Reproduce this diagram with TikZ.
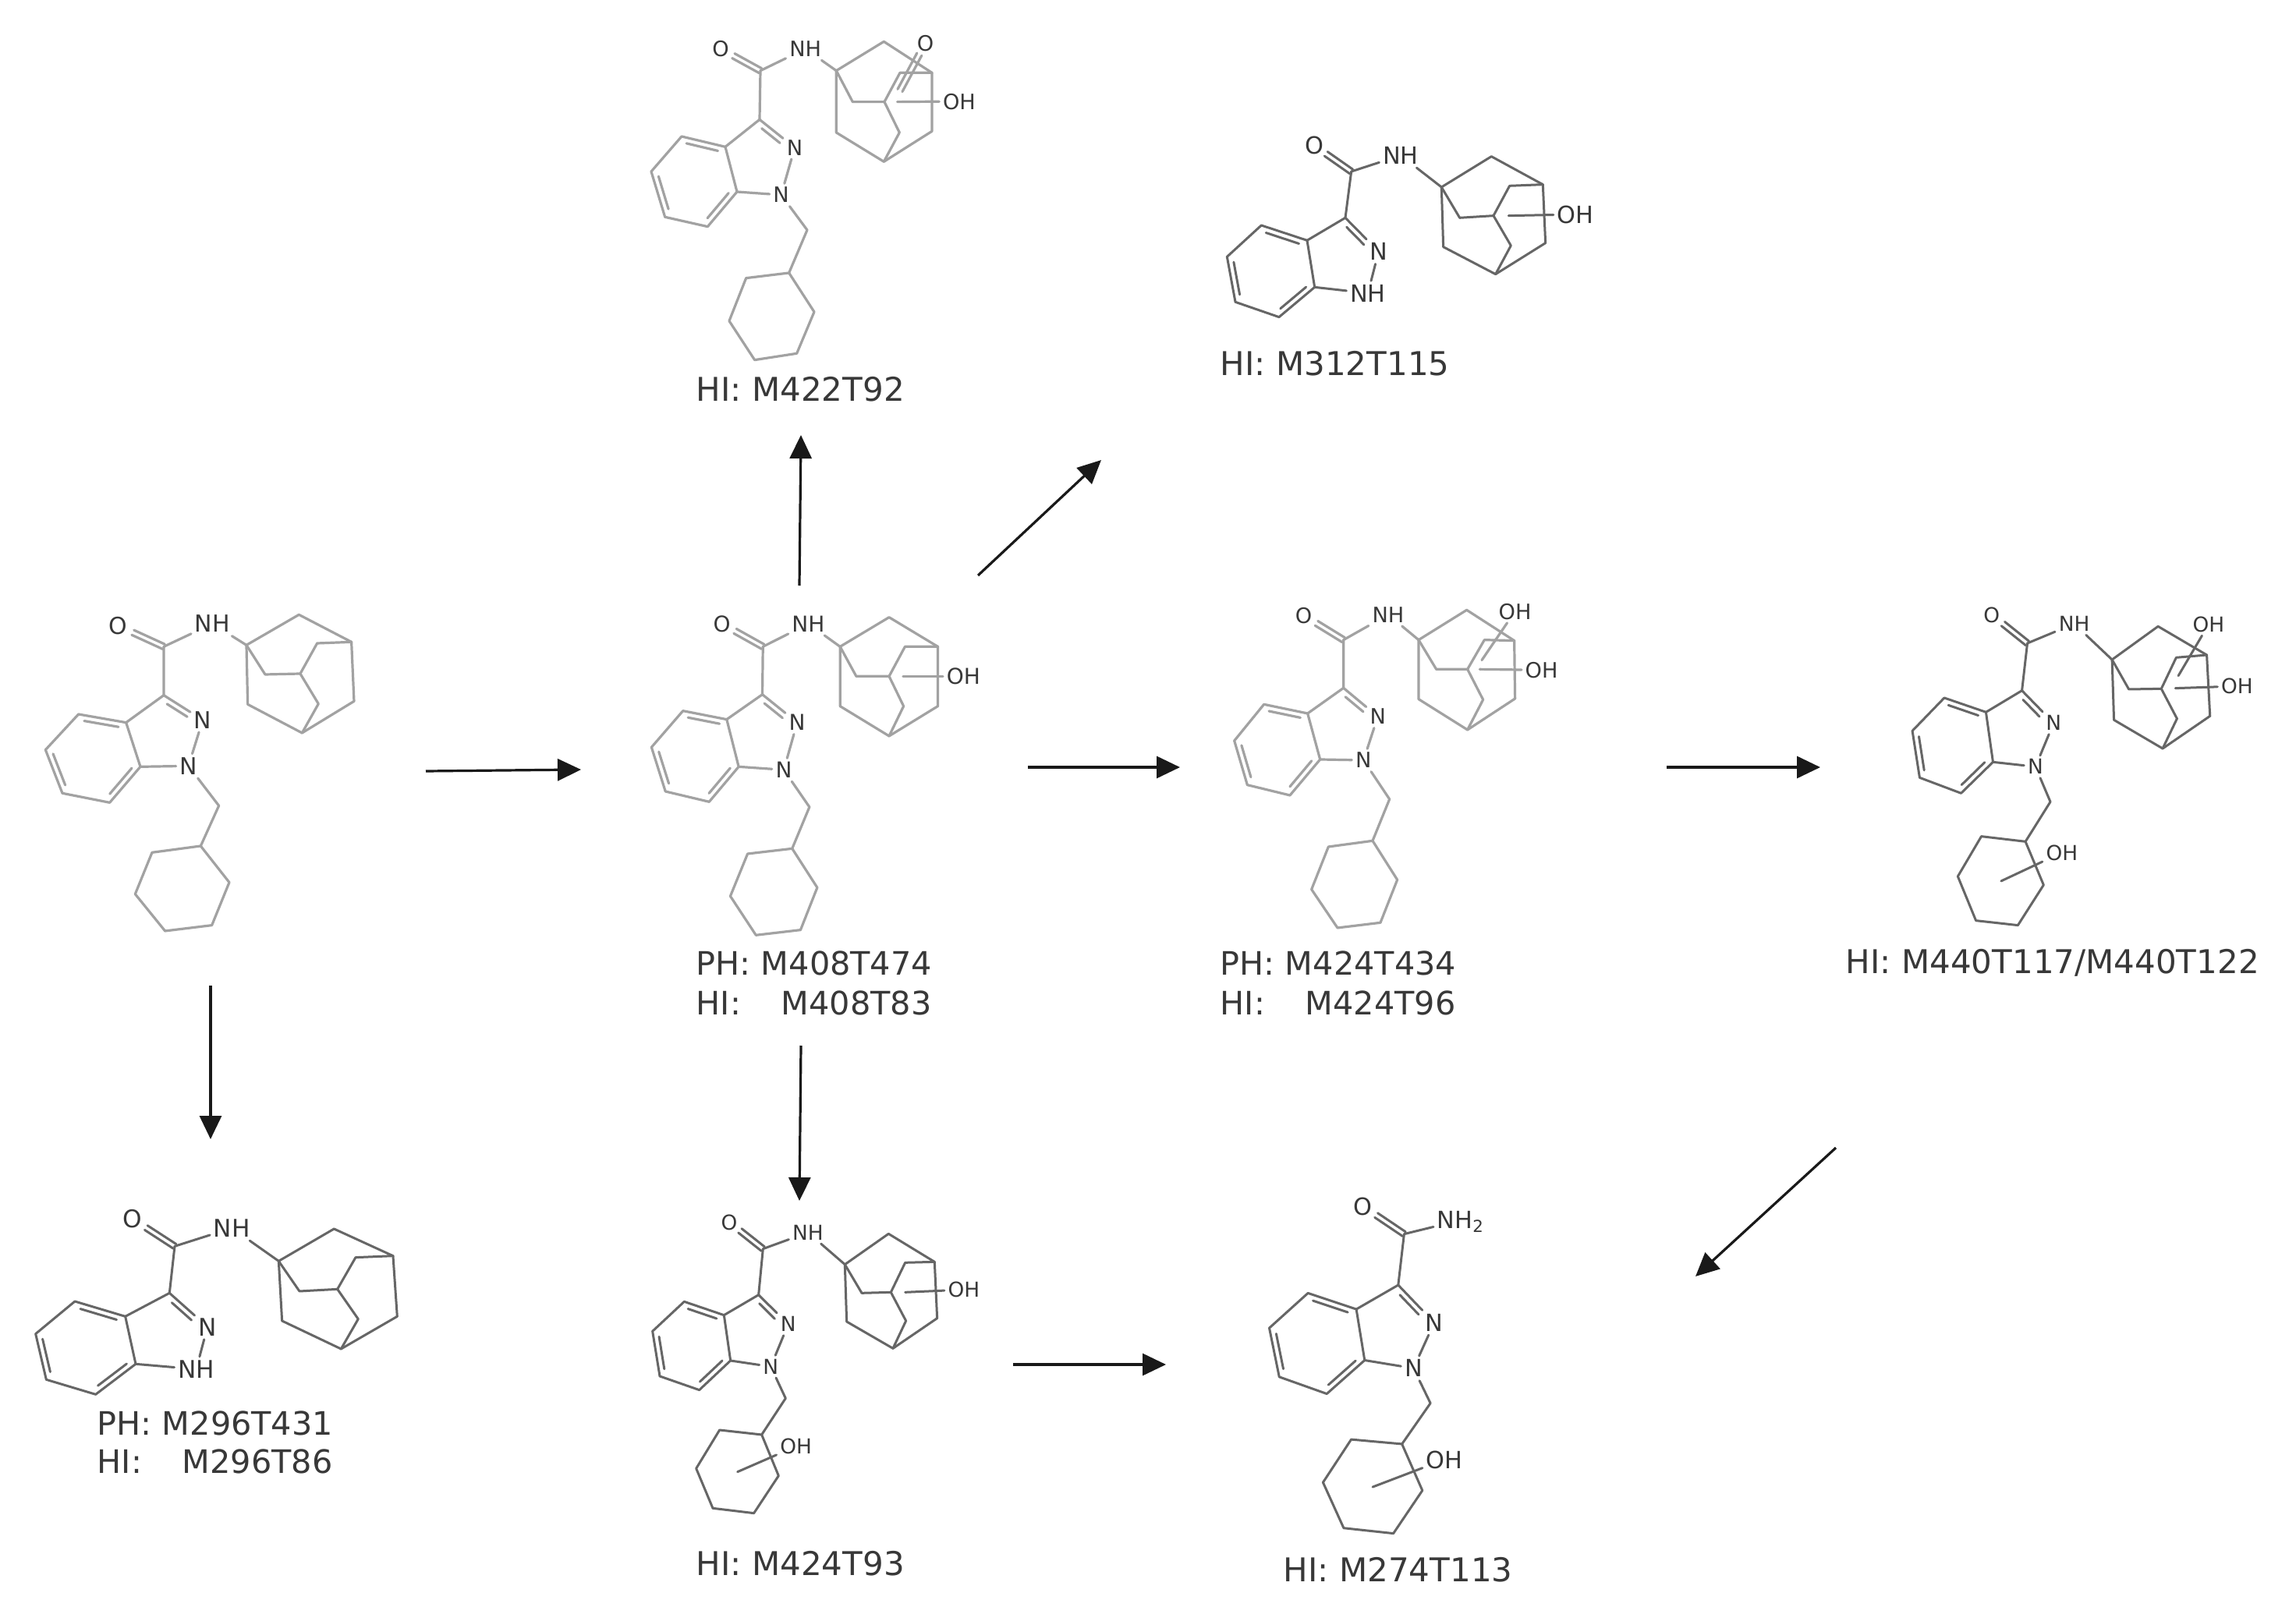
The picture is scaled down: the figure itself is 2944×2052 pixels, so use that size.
\documentclass[tikz,border=0pt]{standalone}
\usepackage{fontspec}
\setmainfont{DejaVu Sans}
\usetikzlibrary{calc,arrows.meta}
\definecolor{glight}{HTML}{A2A2A2}
\definecolor{gdark}{HTML}{666666}
\definecolor{txt}{HTML}{383838}
\tikzset{
  bond/.style={draw=gdark,line width=.75pt,line cap=round,line join=round},
  mollight/.style={bond/.style={draw=glight,line width=.8pt,line cap=round,line join=round}},
  moldark/.style={bond/.style={draw=gdark,line width=.75pt,line cap=round,line join=round}},
  atom/.style={inner sep=1pt,text=txt,text depth=0pt,font=\fontsize{\afs}{\afs}\selectfont},
  caption/.style={anchor=west,inner sep=0pt,text=txt,font=\fontsize{10.5}{12}\selectfont},
  captionb/.style={caption,font=\fontsize{10.35}{12}\selectfont},
  reaction/.style={draw=black!90,line width=.8pt,-{Triangle[length=7.5pt,width=7pt]}}
}
\newcommand\mol[2]{\def\mn{#1}\def\afs{#2}}
\newcommand\pts[1]{\foreach \n/\x/\y in {#1}{\coordinate (\mn-\n) at (\x,\y);}}
\newcommand\lab[4]{\node[atom] (\mn-#1) at (#2,#3) {#4};}
\newcommand\dblbond[3]{%
  \draw[bond] ($(\mn-#1)!.85pt!90:(\mn-#2)$) -- ($(\mn-#1)!#3!(\mn-#2)!.85pt!90:(\mn-#2)$);
  \draw[bond] ($(\mn-#1)!.85pt!-90:(\mn-#2)$) -- ($(\mn-#1)!#3!(\mn-#2)!.85pt!-90:(\mn-#2)$);}
\newcommand\innerline[3]{\draw[bond] ($(\mn-#1)!.14!(\mn-#2)!1.8pt!#3:(\mn-#2)$) -- ($(\mn-#1)!.86!(\mn-#2)!1.8pt!#3:(\mn-#2)$);}
\newcommand\indaz{%
  \draw[bond] (\mn-C3a) -- (\mn-C4) -- (\mn-C5) -- (\mn-C6) -- (\mn-C7) -- (\mn-C7a) -- cycle;
  \innerline{C3a}{C4}{90}\innerline{C5}{C6}{90}\innerline{C7}{C7a}{90}
  \draw[bond] (\mn-C3a) -- (\mn-C3) -- (\mn-N2) -- (\mn-N1) -- (\mn-C7a);
  \draw[bond] ($(\mn-C3)!.16!(\mn-N2)!1.8pt!-90:(\mn-N2)$) -- ($(\mn-C3)!.68!(\mn-N2)!1.8pt!-90:(\mn-N2)$);
  \draw[bond] (\mn-C3) -- (\mn-Cc) -- (\mn-NH);
  \dblbond{Cc}{O}{.68}}
\newcommand\cyhex{%
  \draw[bond] (\mn-N1) -- (\mn-CH2) -- (\mn-Cy1);
  \draw[bond] (\mn-Cy1) -- (\mn-Cy2) -- (\mn-Cy3) -- (\mn-Cy4) -- (\mn-Cy5) -- (\mn-Cy6) -- cycle;}
\newcommand\adam{%
  \draw[bond] (\mn-NH) -- (\mn-A1);
  \draw[bond] (\mn-A1) -- (\mn-A2) -- (\mn-A3) -- (\mn-A4) -- (\mn-A5) -- (\mn-A6) -- cycle;
  \draw[bond] (\mn-A1) -- (\mn-B1) -- (\mn-B2) -- (\mn-B3) -- (\mn-A3);
  \draw[bond] (\mn-B2) -- (\mn-B4) -- (\mn-A5);}
\newcommand\hydroxy[5]{% name, bar start, label centre
  \coordinate (\mn-#1s) at (#2,#3);
  \lab{#1}{#4}{#5}{OH}
  \draw[bond] (\mn-#1s) -- (\mn-#1);}
\begin{document}
\begin{tikzpicture}[x=.25pt,y=-.25pt]
\useasboundingbox (0,0) rectangle (2944,2052);
\fill[white] (0,0) rectangle (2944,2052);

% parent, left
\begin{scope}[shift={(20,740)},x=.08333pt,y=-.08333pt,mollight]
\mol{pa}{7.5}
\pts{Cc/570/268,C3/570/455,C3a/425/560,C7a/480/730,C4/242/528,C5/115/665,C6/180/832,C7/362/868,CH2/782/880,Cy1/712/1035,Cy2/525/1060,Cy3/460/1220,Cy4/575/1362,Cy5/755/1340,Cy6/822/1175,A1/888/262,A2/1090/145,A3/1292/250,A4/1302/478,A5/1102/600,A6/893/490,B1/960/375,B2/1095/372,B3/1160/255,B4/1165/488}
\lab{O}{395}{188}{O}\lab{NH}{757}{180}{NH}\lab{N2}{720}{550}{N}\lab{N1}{665}{727}{N}
\indaz\cyhex\adam
\end{scope}

% M296
\begin{scope}[shift={(20,1520)},x=.08333pt,y=-.08333pt,moldark]
\mol{mb}{7.8}
\pts{Cc/612/235,C3/592/415,C3a/422/505,C7a/462/688,C4/228/447,C5/77/572,C6/118/748,C7/308/805,A1/1012/292,A2/1225/168,A3/1452/272,A4/1468/505,A5/1252/630,A6/1025/522,B1/1092/408,B2/1238/400,B3/1308/278,B4/1318/515}
\lab{O}{450}{130}{O}\lab{NH}{832}{165}{NH}\lab{N2}{738}{545}{N}\lab{N1}{695}{708}{NH}
\indaz\adam
\end{scope}

% M408
\begin{scope}[shift={(780,740)},x=.08929pt,y=-.08333pt,mollight]
\mol{mc}{7}
\pts{Cc/555/268,C3/553/452,C3a/425/548,C7a/468/730,C4/268/515,C5/155/655,C6/205/825,C7/362/865,CH2/722/885,Cy1/660/1045,Cy2/500/1065,Cy3/438/1228,Cy4/530/1378,Cy5/690/1358,Cy6/750/1195,A1/832/268,A2/1008/155,A3/1183/268,A4/1183/497,A5/1008/612,A6/832/497,B1/890/382,B2/1008/382,B3/1065/268,B4/1060/497}
\lab{O}{408}{180}{O}\lab{NH}{718}{180}{NH}\lab{N2}{678}{560}{N}\lab{N1}{630}{742}{N}
\indaz\cyhex\adam
\hydroxy{OHa}{1058}{382}{1275}{382}
\end{scope}

% M422
\begin{scope}[shift={(780,0)},x=.08333pt,y=-.08333pt,mollight]
\mol{md}{6.8}
\pts{Cc/585/272,C3/582/460,C3a/450/565,C7a/495/738,C4/282/525,C5/165/660,C6/218/835,C7/382/872,CH2/765/885,Cy1/695/1050,Cy2/530/1070,Cy3/465/1235,Cy4/563/1385,Cy5/725/1360,Cy6/792/1200,A1/877/272,A2/1060/160,A3/1245/280,A4/1245/505,A5/1060/622,A6/877/510,B1/940/392,B2/1062/392,B3/1122/280,B4/1120/510,KS/1122/348}
\lab{O}{432}{188}{O}\lab{NH}{758}{188}{NH}\lab{N2}{717}{568}{N}\lab{N1}{665}{750}{N}
\lab{KO}{1220}{165}{O}
\indaz\cyhex\adam
\dblbond{KS}{KO}{.76}
\hydroxy{OHa}{1112}{392}{1350}{390}
\end{scope}

% M312
\begin{scope}[shift={(1540,140)},x=.08333pt,y=-.08333pt,moldark]
\mol{me}{7.6}
\pts{Cc/578/240,C3/555/418,C3a/408/505,C7a/437/685,C4/232/447,C5/100/568,C6/132/742,C7/300/800,A1/925/300,A2/1117/182,A3/1315/290,A4/1325/515,A5/1133/635,A6/932/530,B1/995/418,B2/1125/410,B3/1187/295,B4/1192/525}
\lab{O}{435}{140}{O}\lab{NH}{768}{178}{NH}\lab{N2}{683}{548}{N}\lab{N1}{642}{708}{NH}
\indaz\adam
\hydroxy{OHa}{1183}{410}{1440}{405}
\end{scope}

% M424T434
\begin{scope}[shift={(1540,750)},x=.08333pt,y=-.08333pt,mollight]
\mol{mf}{6.8}
\pts{Cc/548/212,C3/548/397,C3a/410/495,C7a/458/672,C4/242/460,C5/128/600,C6/178/770,C7/342/810,CH2/725/825,Cy1/660/985,Cy2/490/1008,Cy3/425/1172,Cy4/525/1320,Cy5/690/1300,Cy6/755/1135,A1/837/212,A2/1022/97,A3/1205/215,A4/1208/438,A5/1025/558,A6/837/440,B1/905/325,B2/1025/325,B3/1090/212,B4/1085/442}
\lab{O}{395}{118}{O}\lab{NH}{720}{115}{NH}\lab{N2}{680}{507}{N}\lab{N1}{625}{675}{N}
\indaz\cyhex\adam
\hydroxy{OHa}{1080}{290}{1208}{102}
\hydroxy{OHb}{1072}{325}{1310}{328}
\end{scope}

% M440
\begin{scope}[shift={(2400,740)},x=.08675pt,y=-.08333pt,moldark]
\mol{mg}{6.6}
\pts{Cc/575/255,C3/555/437,C3a/422/520,C7a/448/712,C4/268/465,C5/150/592,C6/177/772,C7/330/832,CH2/660/865,Cy1/568/1018,Cy2/405/998,Cy3/318/1152,Cy4/385/1322,Cy5/540/1340,Cy6/635/1185,A1/888/318,A2/1058/190,A3/1238/300,A4/1250/535,A5/1075/660,A6/895/550,B1/950/432,B2/1070/430,B3/1125/310,B4/1128/545}
\lab{O}{443}{145}{O}\lab{NH}{748}{180}{NH}\lab{N2}{672}{562}{N}\lab{N1}{605}{730}{N}
\indaz\cyhex\adam
\hydroxy{OHa}{1133}{380}{1245}{182}
\hydroxy{OHb}{1122}{428}{1350}{420}
\hydroxy{OHc}{478}{1170}{703}{1060}
\end{scope}

% M424T93
\begin{scope}[shift={(800,1520)},x=.08333pt,y=-.08333pt,moldark]
\mol{mh}{6.6}
\pts{Cc/535/245,C3/518/422,C3a/385/500,C7a/410/675,C4/232/448,C5/110/562,C6/138/735,C7/290/788,CH2/622/820,Cy1/530/960,Cy2/368/942,Cy3/278/1090,Cy4/342/1243,Cy5/500/1262,Cy6/595/1118,A1/850/305,A2/1018/187,A3/1195/295,A4/1205/512,A5/1035/628,A6/857/525,B1/915/415,B2/1027/412,B3/1082/298,B4/1085/522}
\lab{O}{405}{142}{O}\lab{NH}{708}{182}{NH}\lab{N2}{632}{535}{N}\lab{N1}{565}{698}{N}
\indaz\cyhex\adam
\hydroxy{OHa}{1082}{412}{1308}{402}
\hydroxy{OHc}{437}{1103}{662}{1005}
\end{scope}

% M274
\begin{scope}[shift={(1580,1500)},x=.08609pt,y=-.08609pt,moldark]
\mol{mi}{7.6}
\pts{Cc/640/240,C3/618/430,C3a/462/520,C7a/493/710,C4/282/460,C5/138/590,C6/175/772,C7/352/835,CH2/738/870,Cy1/632/1022,Cy2/443/1005,Cy3/338/1165,Cy4/415/1335,Cy5/600/1355,Cy6/708/1195}
\lab{O}{487}{137}{O}\lab{NH}{852}{188}{NH\textsubscript{2}}\lab{N2}{752}{570}{N}\lab{N1}{675}{740}{N}
\indaz\cyhex
\hydroxy{OHc}{523}{1182}{790}{1080}
\end{scope}

% captions
\node[caption] (t1) at (892,499) {HI: M422T92};
\node[caption] (t2) at (1564,466) {HI: M312T115};
\node[captionb] (t3) at (892,1235) {PH: M408T474};
\node[captionb] (t4) at (892,1286) {HI:\hspace{12.9pt}M408T83};
\node[captionb] (t5) at (1564,1235) {PH: M424T434};
\node[captionb] (t6) at (1564,1286) {HI:\hspace{12.9pt}M424T96};
\node[caption] (t7) at (2366,1235) {HI: M440T117/M440T122};
\node[captionb] (t8) at (124,1825) {PH: M296T431};
\node[captionb] (t9) at (124,1874) {HI:\hspace{12.9pt}M296T86};
\node[caption] (t10) at (892,2005) {HI: M424T93};
\node[caption] (t11) at (1645,2013) {HI: M274T113};

% reaction arrows
\coordinate (a1s) at (546,989);  \coordinate (a1e) at (745,987);
\coordinate (a2s) at (1025,751); \coordinate (a2e) at (1027,558);
\coordinate (a3s) at (1254,738); \coordinate (a3e) at (1412,590);
\coordinate (a4s) at (1318,984); \coordinate (a4e) at (1513,984);
\coordinate (a5s) at (2137,984); \coordinate (a5e) at (2334,984);
\coordinate (a6s) at (270,1264); \coordinate (a6e) at (270,1461);
\coordinate (a7s) at (1027,1341);\coordinate (a7e) at (1025,1540);
\coordinate (a8s) at (1299,1750);\coordinate (a8e) at (1495,1750);
\coordinate (a9s) at (2354,1472);\coordinate (a9e) at (2174,1637);
\foreach \k in {1,...,9}{\draw[reaction] (a\k s) -- (a\k e);}
\end{tikzpicture}
\end{document}
